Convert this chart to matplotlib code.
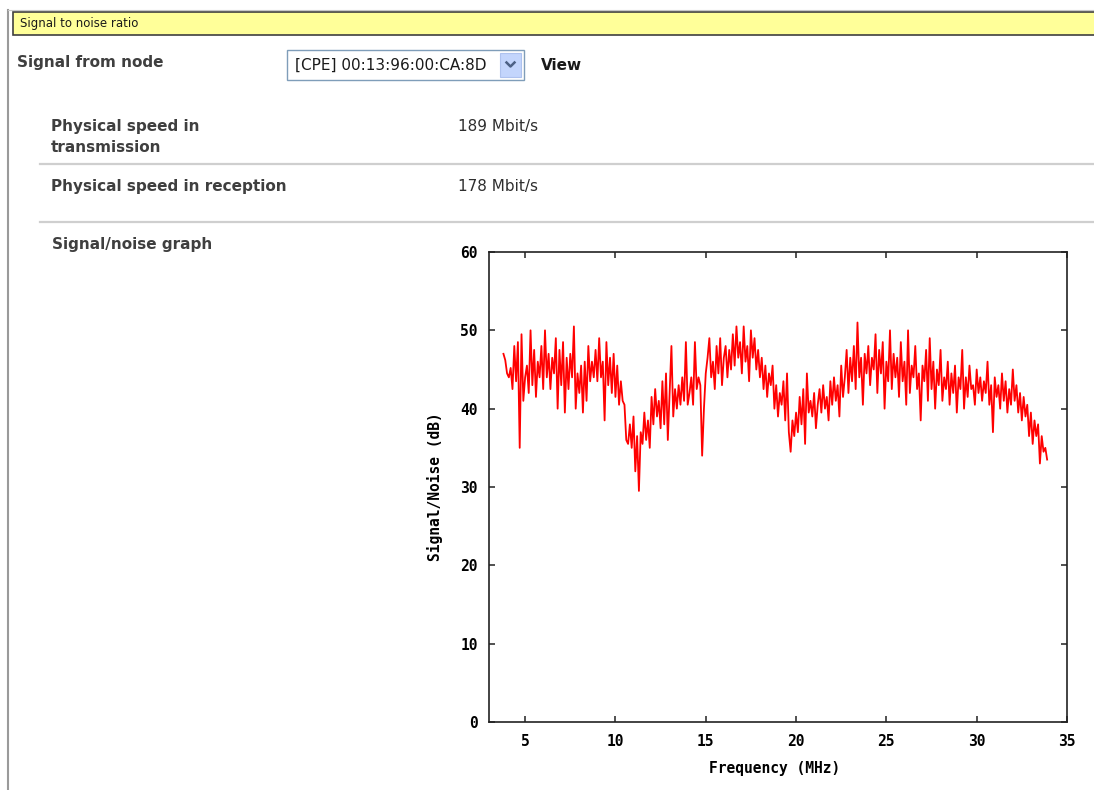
"""
snr_panel.py
------------
Draws the signal-to-noise status panel of a powerline node: link speeds
and the per-carrier SNR trace against frequency.

Outputs:
    out.png
"""

import matplotlib
matplotlib.use("Agg")
import matplotlib.pyplot as plt
import numpy as np
from matplotlib.lines import Line2D
from matplotlib.patches import Rectangle

W, H = 1094, 790

NODE_ID = "[CPE] 00:13:96:00:CA:8D"
TX_SPEED = "189 Mbit/s"
RX_SPEED = "178 Mbit/s"

# carrier grid (MHz)
FREQ_START = 3.8
FREQ_STEP = 0.1

# SNR per carrier (dB), one row per MHz starting at FREQ_START
SNR_DB = [
    47.0, 46.2, 44.5, 44.0, 45.2, 42.5, 48.0, 43.5, 48.5, 35.0,
    49.5, 41.0, 44.0, 45.5, 42.0, 50.0, 43.0, 47.5, 41.5, 46.0,
    44.0, 48.0, 42.5, 50.0, 44.0, 47.0, 42.5, 46.5, 44.5, 49.0,
    40.0, 47.5, 43.0, 48.5, 39.5, 46.5, 42.5, 47.0, 44.0, 50.5,
    40.0, 44.5, 42.0, 45.5, 39.5, 46.0, 41.0, 48.0, 43.5, 46.0,
    44.0, 47.5, 43.5, 49.0, 44.0, 46.0, 38.5, 48.5, 43.0, 46.5,
    42.0, 47.0, 41.5, 45.5, 40.5, 43.5, 41.0, 40.5, 36.0, 35.5,
    38.0, 35.0, 39.0, 32.0, 36.5, 29.5, 37.0, 35.5, 39.5, 36.0,
    38.5, 35.0, 41.5, 38.0, 42.5, 39.0, 41.0, 37.5, 43.5, 38.0,
    44.5, 36.0, 42.0, 48.0, 39.0, 42.5, 40.0, 43.0, 40.5, 44.0,
    41.0, 48.5, 40.5, 42.0, 44.0, 40.5, 48.5, 42.5, 44.0, 43.0,
    34.0, 40.0, 44.5, 46.5, 49.0, 44.0, 46.0, 42.5, 48.0, 44.5,
    49.0, 43.0, 46.5, 48.0, 44.0, 47.5, 45.0, 49.5, 45.5, 50.5,
    46.5, 48.5, 44.5, 50.5, 46.0, 48.0, 43.5, 50.0, 46.5, 49.0,
    45.0, 47.5, 44.0, 46.5, 42.5, 45.5, 41.5, 44.5, 43.0, 45.5,
    40.0, 43.0, 39.0, 42.0, 40.5, 43.5, 38.5, 44.5, 37.0, 34.5,
    38.5, 36.5, 39.5, 37.0, 41.5, 38.0, 42.5, 35.5, 44.5, 39.5,
    41.0, 39.0, 42.0, 37.5, 40.5, 42.5, 39.5, 43.0, 40.0, 41.5,
    38.5, 43.5, 40.5, 44.0, 41.0, 43.0, 39.0, 45.5, 41.5, 44.0,
    47.5, 42.0, 46.5, 43.5, 48.0, 42.5, 51.0, 44.0, 46.5, 40.5,
    47.0, 44.5, 48.0, 43.0, 46.5, 45.0, 49.5, 42.0, 47.5, 44.5,
    48.5, 40.0, 46.0, 43.5, 50.0, 42.5, 47.0, 44.0, 46.5, 41.5,
    48.5, 43.5, 46.0, 40.5, 50.0, 42.0, 45.5, 44.0, 48.0, 42.5,
    44.5, 38.5, 45.5, 43.5, 47.5, 41.0, 49.0, 42.5, 46.0, 40.0,
    45.0, 43.0, 47.5, 41.0, 44.0, 42.5, 46.0, 40.5, 44.5, 42.0,
    45.5, 39.5, 44.0, 42.5, 47.5, 40.0, 44.0, 41.5, 45.5, 42.5,
    43.0, 40.5, 45.0, 42.0, 44.0, 41.0, 43.5, 42.0, 46.0, 40.5,
    43.0, 37.0, 44.0, 41.5, 43.0, 40.0, 44.5, 41.0, 43.5, 39.5,
    42.5, 40.5, 45.0, 41.0, 43.0, 39.5, 42.0, 38.5, 41.5, 39.0,
    40.5, 36.5, 39.5, 35.5, 38.5, 36.5, 38.0, 33.0, 36.5, 34.5,
    35.0, 33.5,
]

X_TICKS = [5, 10, 15, 20, 25, 30, 35]
Y_TICKS = [0, 10, 20, 30, 40, 50, 60]

LABEL_COLOR = "#3f3f3f"
VALUE_COLOR = "#2e2e2e"
UI_FONT = "DejaVu Sans"
PLOT_FONT = "DejaVu Sans Mono"


def draw_page(fig):
    # full-figure axes in pixel coordinates for the page furniture
    bg = fig.add_axes([0, 0, 1, 1])
    bg.set_xlim(0, W)
    bg.set_ylim(H, 0)
    bg.axis("off")

    # outer frame
    bg.add_line(Line2D([7.5, 7.5], [10, H], color="#9a9a9a", lw=1.5))
    bg.add_line(Line2D([7.5, W], [10, 10], color="#c8c8c8", lw=0.8))

    # section header bar
    bg.add_patch(Rectangle((12.5, 11.5), W, 23, facecolor="#ffff99",
                           edgecolor="#404040", lw=1.2))
    bg.text(20, 23.5, "Signal to noise ratio", fontsize=8.5,
            family=UI_FONT, color="#1a1a1a", va="center")

    # node selector
    bg.text(17, 62, "Signal from node", fontsize=11, family=UI_FONT,
            weight="bold", color=LABEL_COLOR, va="center")
    bg.add_patch(Rectangle((287, 50), 237, 30, facecolor="white",
                           edgecolor="#7f9db9", lw=1.0))
    bg.text(295, 65.5, NODE_ID, fontsize=11, family=UI_FONT,
            color="#1a1a1a", va="center")
    bg.add_patch(Rectangle((500, 52.5), 21, 24.5, facecolor="#c3d5fc",
                           edgecolor="#aec2ee", lw=0.8))
    bg.add_line(Line2D([506.5, 510.5, 514.5], [62.5, 66.5, 62.5],
                       color="#4d6185", lw=1.8))
    bg.text(541, 66, "View", fontsize=11, family=UI_FONT, weight="bold",
            color="#1a1a1a", va="center")

    # link speed rows
    bg.text(51, 127, "Physical speed in", fontsize=11, family=UI_FONT,
            weight="bold", color=LABEL_COLOR, va="center")
    bg.text(51, 147, "transmission", fontsize=11, family=UI_FONT,
            weight="bold", color=LABEL_COLOR, va="center")
    bg.text(458, 127, TX_SPEED, fontsize=11, family=UI_FONT,
            color=VALUE_COLOR, va="center")
    bg.add_line(Line2D([40, W], [164, 164], color="#cfcfcf", lw=1.6))

    bg.text(51, 186, "Physical speed in reception", fontsize=11,
            family=UI_FONT, weight="bold", color=LABEL_COLOR, va="center")
    bg.text(458, 186, RX_SPEED, fontsize=11, family=UI_FONT,
            color=VALUE_COLOR, va="center")
    bg.add_line(Line2D([40, W], [222, 222], color="#cfcfcf", lw=1.6))

    bg.text(52, 244, "Signal/noise graph", fontsize=11, family=UI_FONT,
            weight="bold", color=LABEL_COLOR, va="center")


def plot_snr(fig):
    freq = FREQ_START + FREQ_STEP * np.arange(len(SNR_DB))

    left, right, top, bottom = 489, 1067, 252, 722
    ax = fig.add_axes([left / W, 1 - bottom / H,
                       (right - left) / W, (bottom - top) / H])
    ax.plot(freq, SNR_DB, color="#ff0000", lw=1.3)

    ax.set_xlim(3, 35)
    ax.set_ylim(0, 60)
    ax.set_xticks(X_TICKS)
    ax.set_yticks(Y_TICKS)

    for spine in ax.spines.values():
        spine.set_color("#222222")
        spine.set_linewidth(1.2)

    ax.tick_params(direction="in", length=4, width=1.1, color="#222222",
                   top=True, right=True, labelsize=10.5)
    ax.tick_params(axis="x", pad=9)
    ax.tick_params(axis="y", pad=8)
    for lab in ax.get_xticklabels() + ax.get_yticklabels():
        lab.set_family(PLOT_FONT)
        lab.set_weight("bold")

    ax.set_xlabel("Frequency (MHz)", family=PLOT_FONT, weight="bold",
                  fontsize=10.5)
    ax.set_ylabel("Signal/Noise (dB)", family=PLOT_FONT, weight="bold",
                  fontsize=10.5)
    ax.xaxis.set_label_coords(0.495, -0.083)
    ax.yaxis.set_label_coords(-0.08, 0.5)


def main():
    fig = plt.figure(figsize=(W / 100, H / 100), dpi=100)
    fig.patch.set_facecolor("white")
    draw_page(fig)
    plot_snr(fig)
    fig.savefig("out.png", dpi=100)
    plt.close(fig)


if __name__ == "__main__":
    main()
